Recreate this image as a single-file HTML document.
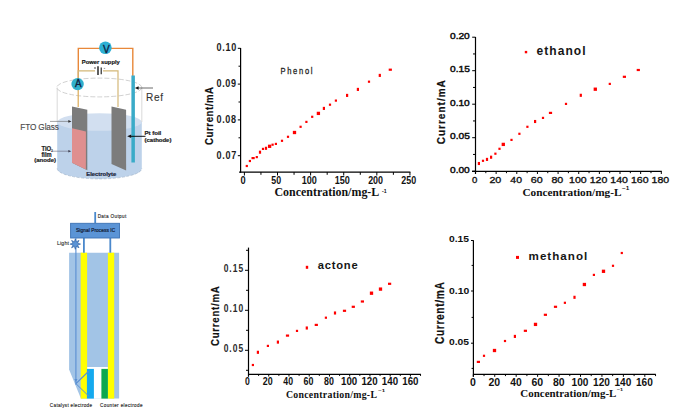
<!DOCTYPE html>
<html><head><meta charset="utf-8"><style>
html,body{margin:0;padding:0;background:#fff;width:683px;height:419px;overflow:hidden;}
svg{display:block;}
</style></head><body>
<svg width="683" height="419" viewBox="0 0 683 419">
<rect width="683" height="419" fill="#fff"/>
<path d="M57.2,122 L57.2,168.4 A42.3,10.5 0 0 0 141.8,168.4 L141.8,122 Z" fill="#bdd2ea"/>
<path d="M57.2,168.4 A42.3,10.5 0 0 0 141.8,168.4" fill="none" stroke="#9fb2c8" stroke-width="0.6" stroke-dasharray="3,1.5"/>
<ellipse cx="99.5" cy="122" rx="42.3" ry="8.8" fill="#d2dff0"/>
<line x1="57.2" y1="87.5" x2="57.2" y2="122" stroke="#cfcfcf" stroke-width="0.8"/>
<line x1="141.8" y1="87.5" x2="141.8" y2="122" stroke="#cfcfcf" stroke-width="0.8"/>
<ellipse cx="99.3" cy="87.5" rx="42.5" ry="9.4" fill="none" stroke="#bdbdbd" stroke-width="0.7" stroke-dasharray="5,2"/>
<polyline points="78.3,84 78.3,48.4 132.8,48.4 132.8,76" fill="none" stroke="#e8883a" stroke-width="1.4"/>
<polyline points="78.2,84 78.2,70.8 118,70.8 118,107" fill="none" stroke="#d4b878" stroke-width="1.2"/>
<line x1="78.2" y1="84" x2="78.2" y2="107" stroke="#dcaa55" stroke-width="1.2"/>
<rect x="95" y="69.5" width="8" height="3" fill="#fff"/>
<line x1="98" y1="66.3" x2="98" y2="75" stroke="#1a1a1a" stroke-width="1.4"/>
<line x1="101.2" y1="67.6" x2="101.2" y2="74.2" stroke="#1a1a1a" stroke-width="1.1"/>
<circle cx="95" cy="68" r="0.75" fill="#222"/>
<line x1="103.8" y1="68.4" x2="105.2" y2="68.4" stroke="#555" stroke-width="0.6"/>
<circle cx="105.4" cy="47.8" r="6.3" fill="#2eb0d4"/>
<circle cx="77.6" cy="84.1" r="6.2" fill="#30b0cc"/>
<text x="102.95" y="52.60" font-family='"Liberation Sans", sans-serif' font-size="10.34" font-weight="normal" fill="#102040" textLength="6.72" lengthAdjust="spacingAndGlyphs" stroke="#102040" stroke-width="0.35">V</text>
<text x="75.00" y="86.90" font-family='"Liberation Sans", sans-serif' font-size="10.20" font-weight="normal" fill="#102040" textLength="6.52" lengthAdjust="spacingAndGlyphs" stroke="#102040" stroke-width="0.35">A</text>
<rect x="131.4" y="75.5" width="3.5" height="87" fill="#3aabc8"/>
<path d="M72,106.4 L87.3,109.7 L87.3,170.2 L72,162.7 Z" fill="#7c7c7c"/>
<path d="M72,128.3 L85.9,131.5 L85.9,169.5 L72,162.7 Z" fill="#df8f8f"/>
<path d="M111.5,106.4 L126.1,109.7 L126.1,170.5 L111.5,164 Z" fill="#7c7c7c"/>
<line x1="50" y1="121.4" x2="70" y2="121.4" stroke="#666" stroke-width="0.6"/>
<path d="M71.5,121.4 L68.3,120.1 L68.3,122.7 Z" fill="#333"/>
<line x1="52" y1="151.2" x2="69.5" y2="151.2" stroke="#667" stroke-width="0.6"/>
<path d="M71.3,151.2 L68.3,150 L68.3,152.4 Z" fill="#445"/>
<line x1="137" y1="88" x2="153" y2="88" stroke="#444" stroke-width="0.8"/>
<path d="M134.9,88 L138.6,86.3 L138.6,89.7 Z" fill="#111"/>
<line x1="130" y1="136.3" x2="145.5" y2="136.3" stroke="#111" stroke-width="1"/>
<path d="M127.2,136.3 L131.2,134.6 L131.2,138 Z" fill="#111"/>
<text x="81.82" y="63.80" font-family='"Liberation Sans", sans-serif' font-size="5.45" font-weight="bold" fill="#111" textLength="38.02" lengthAdjust="spacingAndGlyphs" stroke="#111" stroke-width="0.15">Power supply</text>
<text x="0" y="0" transform="translate(20.24,129.80) scale(0.88,1)" font-family='"Liberation Sans", sans-serif' font-size="9.36" font-weight="normal" fill="#4a4a4a" letter-spacing="-0.128" stroke="#4a4a4a" stroke-width="0.15">FTO Glass</text>
<text x="0" y="0" transform="translate(146.00,101.40) scale(0.9,1)" font-family='"Liberation Sans", sans-serif' font-size="11.17" font-weight="normal" fill="#333" letter-spacing="0.732" stroke="#333" stroke-width="0.12">Ref</text>
<text x="41.44" y="150.50" font-family='"Liberation Sans", sans-serif' font-size="6.70" font-weight="bold" fill="#222" textLength="9.82" lengthAdjust="spacingAndGlyphs" stroke="#222" stroke-width="0.2">TiO</text>
<text x="51.08" y="152.20" font-family='"Liberation Sans", sans-serif' font-size="3.63" font-weight="bold" fill="#222" textLength="1.85" lengthAdjust="spacingAndGlyphs" >2</text>
<text x="41.41" y="157.20" font-family='"Liberation Sans", sans-serif' font-size="6.98" font-weight="bold" fill="#222" textLength="10.22" lengthAdjust="spacingAndGlyphs" stroke="#222" stroke-width="0.2">film</text>
<text x="34.20" y="161.80" font-family='"Liberation Sans", sans-serif' font-size="5.87" font-weight="bold" fill="#222" textLength="21.88" lengthAdjust="spacingAndGlyphs" stroke="#222" stroke-width="0.2">(anode)</text>
<text x="144.40" y="135.20" font-family='"Liberation Sans", sans-serif' font-size="5.59" font-weight="bold" fill="#1e1e1e" textLength="16.91" lengthAdjust="spacingAndGlyphs" stroke="#1e1e1e" stroke-width="0.2">Pt foil</text>
<text x="144.50" y="141.70" font-family='"Liberation Sans", sans-serif' font-size="4.89" font-weight="bold" fill="#1e1e1e" textLength="26.90" lengthAdjust="spacingAndGlyphs" stroke="#1e1e1e" stroke-width="0.2">(cathode)</text>
<text x="86.22" y="175.80" font-family='"Liberation Sans", sans-serif' font-size="5.87" font-weight="bold" fill="#1a2238" textLength="30.11" lengthAdjust="spacingAndGlyphs" stroke="#1a2238" stroke-width="0.2">Electrolyte</text>
<path d="M69.1,252.7 L119.1,252.7 L119.1,398.6 L80.9,398.6 L69.1,369.6 Z" fill="#a2c4e6"/>
<rect x="87.1" y="367" width="20.8" height="31.6" fill="#ffffff"/>
<rect x="80.7" y="252.7" width="6.4" height="145.9" fill="#ffff00"/>
<rect x="107.9" y="252.7" width="6.3" height="145.9" fill="#ffff00"/>
<rect x="86.9" y="368.9" width="7.0" height="29.7" fill="#14a9ee"/>
<rect x="101.4" y="368.9" width="6.5" height="29.7" fill="#0ea84f"/>
<line x1="95.2" y1="212" x2="95.2" y2="223" stroke="#4a88cc" stroke-width="1.8"/>
<line x1="83.9" y1="238" x2="83.9" y2="252.7" stroke="#4a88cc" stroke-width="1.8"/>
<line x1="110.3" y1="238" x2="110.3" y2="252.7" stroke="#4a88cc" stroke-width="1.8"/>
<rect x="70.6" y="223.3" width="48.9" height="14.7" fill="#5b94d6" stroke="#3d72b4" stroke-width="0.9"/>
<polyline points="75.9,238 75.9,383.6 88.4,371.5" fill="none" stroke="#5a8fd2" stroke-width="1.1"/>
<path d="M74.3,379 L77.5,379 L75.9,382 Z" fill="#5a8fd2"/>
<circle cx="88.2" cy="371.7" r="0.9" fill="#5a8fd2"/>
<circle cx="88.2" cy="395.6" r="0.9" fill="#5a8fd2"/>
<polyline points="75.9,383.6 88.4,395.8" fill="none" stroke="#5a8fd2" stroke-width="1.0"/>
<polygon points="80.50,244.10 77.52,245.02 78.98,247.78 76.22,246.32 75.30,249.30 74.38,246.32 71.62,247.78 73.08,245.02 70.10,244.10 73.08,243.18 71.62,240.42 74.38,241.88 75.30,238.90 76.22,241.88 78.98,240.42 77.52,243.18" fill="#5b94d6" stroke="#2f63a6" stroke-width="0.7"/>
<text x="0" y="0" transform="translate(76.09,232.30) scale(0.85,1)" font-family='"Liberation Sans", sans-serif' font-size="5.59" font-weight="normal" fill="#15223a" letter-spacing="0.099" stroke="#15223a" stroke-width="0.25">Signal Process IC</text>
<text x="0" y="0" transform="translate(97.63,217.80) scale(0.85,1)" font-family='"Liberation Sans", sans-serif' font-size="5.45" font-weight="normal" fill="#2a2a2a" letter-spacing="0.428" stroke="#2a2a2a" stroke-width="0.15">Data Output</text>
<text x="0" y="0" transform="translate(56.88,244.80) scale(0.85,1)" font-family='"Liberation Sans", sans-serif' font-size="6.15" font-weight="normal" fill="#333" letter-spacing="0.246" stroke="#333" stroke-width="0.15">Light</text>
<text x="0" y="0" transform="translate(49.87,407.40) scale(0.85,1)" font-family='"Liberation Sans", sans-serif' font-size="5.45" font-weight="normal" fill="#2a2a2a" letter-spacing="0.358" stroke="#2a2a2a" stroke-width="0.15">Catalyst electrode</text>
<text x="0" y="0" transform="translate(100.07,407.40) scale(0.85,1)" font-family='"Liberation Sans", sans-serif' font-size="5.45" font-weight="normal" fill="#2a2a2a" letter-spacing="0.421" stroke="#2a2a2a" stroke-width="0.15">Counter electrode</text>
<line x1="240.60" y1="48.00" x2="240.60" y2="172.70" stroke="#000" stroke-width="1.2" />
<line x1="239.10" y1="172.10" x2="410.40" y2="172.10" stroke="#000" stroke-width="1.2" />
<line x1="237.80" y1="48.30" x2="240.60" y2="48.30" stroke="#000" stroke-width="1" />
<text x="0" y="0" transform="translate(216.44,51.10) scale(0.9,1)" font-family='"Liberation Sans", sans-serif' font-size="10.06" font-weight="bold" fill="#1c1c1c" letter-spacing="0.786" >0.10</text>
<line x1="237.80" y1="84.10" x2="240.60" y2="84.10" stroke="#000" stroke-width="1" />
<text x="0" y="0" transform="translate(216.44,86.90) scale(0.9,1)" font-family='"Liberation Sans", sans-serif' font-size="10.06" font-weight="bold" fill="#1c1c1c" letter-spacing="0.769" >0.09</text>
<line x1="237.80" y1="119.90" x2="240.60" y2="119.90" stroke="#000" stroke-width="1" />
<text x="0" y="0" transform="translate(216.44,122.70) scale(0.9,1)" font-family='"Liberation Sans", sans-serif' font-size="10.06" font-weight="bold" fill="#1c1c1c" letter-spacing="0.752" >0.08</text>
<line x1="237.80" y1="155.70" x2="240.60" y2="155.70" stroke="#000" stroke-width="1" />
<text x="0" y="0" transform="translate(216.44,158.50) scale(0.9,1)" font-family='"Liberation Sans", sans-serif' font-size="10.06" font-weight="bold" fill="#1c1c1c" letter-spacing="0.786" >0.07</text>
<line x1="238.50" y1="66.20" x2="240.60" y2="66.20" stroke="#000" stroke-width="1" />
<line x1="238.50" y1="102.00" x2="240.60" y2="102.00" stroke="#000" stroke-width="1" />
<line x1="238.50" y1="137.80" x2="240.60" y2="137.80" stroke="#000" stroke-width="1" />
<line x1="244.40" y1="172.10" x2="244.40" y2="175.50" stroke="#000" stroke-width="1" />
<text x="240.53" y="183.70" font-family='"Liberation Sans", sans-serif' font-size="10.06" font-weight="bold" fill="#111" textLength="5.15" lengthAdjust="spacingAndGlyphs" >0</text>
<line x1="260.95" y1="172.10" x2="260.95" y2="174.80" stroke="#000" stroke-width="1" />
<line x1="277.51" y1="172.10" x2="277.51" y2="175.50" stroke="#000" stroke-width="1" />
<text x="271.34" y="183.70" font-family='"Liberation Sans", sans-serif' font-size="10.06" font-weight="bold" fill="#111" textLength="9.84" lengthAdjust="spacingAndGlyphs" >50</text>
<line x1="294.06" y1="172.10" x2="294.06" y2="174.80" stroke="#000" stroke-width="1" />
<line x1="310.62" y1="172.10" x2="310.62" y2="175.50" stroke="#000" stroke-width="1" />
<text x="301.68" y="183.70" font-family='"Liberation Sans", sans-serif' font-size="10.06" font-weight="bold" fill="#111" textLength="15.14" lengthAdjust="spacingAndGlyphs" >100</text>
<line x1="327.18" y1="172.10" x2="327.18" y2="174.80" stroke="#000" stroke-width="1" />
<line x1="343.73" y1="172.10" x2="343.73" y2="175.50" stroke="#000" stroke-width="1" />
<text x="334.79" y="183.70" font-family='"Liberation Sans", sans-serif' font-size="10.06" font-weight="bold" fill="#111" textLength="15.14" lengthAdjust="spacingAndGlyphs" >150</text>
<line x1="360.29" y1="172.10" x2="360.29" y2="174.80" stroke="#000" stroke-width="1" />
<line x1="376.84" y1="172.10" x2="376.84" y2="175.50" stroke="#000" stroke-width="1" />
<text x="368.13" y="183.70" font-family='"Liberation Sans", sans-serif' font-size="10.06" font-weight="bold" fill="#111" textLength="14.90" lengthAdjust="spacingAndGlyphs" >200</text>
<line x1="393.39" y1="172.10" x2="393.39" y2="174.80" stroke="#000" stroke-width="1" />
<line x1="409.95" y1="172.10" x2="409.95" y2="175.50" stroke="#000" stroke-width="1" />
<text x="401.24" y="183.70" font-family='"Liberation Sans", sans-serif' font-size="10.06" font-weight="bold" fill="#111" textLength="14.90" lengthAdjust="spacingAndGlyphs" >250</text>
<text x="274.50" y="195.80" font-family='"Liberation Serif", serif' font-size="11.48" font-weight="bold" fill="#111" textLength="104.80" lengthAdjust="spacingAndGlyphs" >Concentration/mg-L</text>
<text x="382.09" y="192.60" font-family='"Liberation Sans", sans-serif' font-size="5.03" font-weight="bold" fill="#111" textLength="4.63" lengthAdjust="spacingAndGlyphs" >-1</text>
<text x="0" y="0" transform="translate(212.90,144.50) rotate(-90) translate(-0.38,0) scale(0.85,1)" font-family='"Liberation Sans", sans-serif' font-size="11.31" font-weight="bold" fill="#111" letter-spacing="0.658" stroke="#111" stroke-width="0.2">Current/mA</text>
<text x="0" y="0" transform="translate(280.39,73.90) scale(0.92,1)" font-family='"Liberation Sans", sans-serif' font-size="8.24" font-weight="normal" fill="#222" letter-spacing="1.853" stroke="#222" stroke-width="0.25">Phenol</text>
<rect x="245.70" y="164.90" width="2.2" height="2.2" fill="#f00"/>
<rect x="248.80" y="159.90" width="2.2" height="2.2" fill="#f00"/>
<rect x="251.50" y="157.00" width="3.2" height="2.2" fill="#f00"/>
<rect x="255.70" y="156.00" width="2.2" height="2.2" fill="#f00"/>
<rect x="258.90" y="150.65" width="2.2" height="3.1" fill="#f00"/>
<rect x="261.90" y="147.80" width="2.2" height="2.2" fill="#f00"/>
<rect x="264.90" y="146.75" width="2.2" height="3.1" fill="#f00"/>
<rect x="267.95" y="144.65" width="3.3" height="3.3" fill="#f00"/>
<rect x="271.50" y="143.60" width="2.2" height="2.2" fill="#f00"/>
<rect x="274.80" y="142.80" width="2.2" height="2.2" fill="#f00"/>
<rect x="280.90" y="139.70" width="2.2" height="2.2" fill="#f00"/>
<rect x="286.90" y="135.70" width="2.2" height="2.2" fill="#f00"/>
<rect x="292.85" y="130.85" width="3.3" height="3.3" fill="#f00"/>
<rect x="299.50" y="125.70" width="2.2" height="2.2" fill="#f00"/>
<rect x="305.30" y="120.80" width="2.2" height="2.2" fill="#f00"/>
<rect x="311.10" y="115.70" width="2.2" height="2.2" fill="#f00"/>
<rect x="316.75" y="111.75" width="3.3" height="3.3" fill="#f00"/>
<rect x="322.80" y="106.85" width="2.2" height="3.1" fill="#f00"/>
<rect x="328.90" y="103.60" width="2.2" height="2.2" fill="#f00"/>
<rect x="334.80" y="99.50" width="2.2" height="2.2" fill="#f00"/>
<rect x="346.00" y="93.85" width="2.2" height="3.1" fill="#f00"/>
<rect x="356.80" y="87.85" width="2.2" height="3.1" fill="#f00"/>
<rect x="367.90" y="80.60" width="2.2" height="2.2" fill="#f00"/>
<rect x="378.70" y="73.85" width="2.2" height="3.1" fill="#f00"/>
<rect x="388.70" y="68.60" width="3.2" height="2.2" fill="#f00"/>
<line x1="475.50" y1="37.00" x2="475.50" y2="174.00" stroke="#000" stroke-width="1.2" />
<line x1="472.00" y1="171.40" x2="661.80" y2="171.40" stroke="#000" stroke-width="1.2" />
<line x1="472.20" y1="37.20" x2="475.50" y2="37.20" stroke="#000" stroke-width="1" />
<text x="449.99" y="38.80" font-family='"Liberation Sans", sans-serif' font-size="8.66" font-weight="normal" fill="#111" textLength="19.78" lengthAdjust="spacingAndGlyphs" stroke="#111" stroke-width="0.45">0.20</text>
<line x1="472.20" y1="70.70" x2="475.50" y2="70.70" stroke="#000" stroke-width="1" />
<text x="449.99" y="72.30" font-family='"Liberation Sans", sans-serif' font-size="8.66" font-weight="normal" fill="#111" textLength="19.83" lengthAdjust="spacingAndGlyphs" stroke="#111" stroke-width="0.45">0.15</text>
<line x1="472.20" y1="104.20" x2="475.50" y2="104.20" stroke="#000" stroke-width="1" />
<text x="449.99" y="105.80" font-family='"Liberation Sans", sans-serif' font-size="8.66" font-weight="normal" fill="#111" textLength="19.78" lengthAdjust="spacingAndGlyphs" stroke="#111" stroke-width="0.45">0.10</text>
<line x1="472.20" y1="137.70" x2="475.50" y2="137.70" stroke="#000" stroke-width="1" />
<text x="449.99" y="139.30" font-family='"Liberation Sans", sans-serif' font-size="8.66" font-weight="normal" fill="#111" textLength="19.83" lengthAdjust="spacingAndGlyphs" stroke="#111" stroke-width="0.45">0.05</text>
<line x1="472.20" y1="171.20" x2="475.50" y2="171.20" stroke="#000" stroke-width="1" />
<text x="449.99" y="172.80" font-family='"Liberation Sans", sans-serif' font-size="8.66" font-weight="normal" fill="#111" textLength="19.78" lengthAdjust="spacingAndGlyphs" stroke="#111" stroke-width="0.45">0.00</text>
<line x1="473.00" y1="53.95" x2="475.50" y2="53.95" stroke="#000" stroke-width="1" />
<line x1="473.00" y1="87.45" x2="475.50" y2="87.45" stroke="#000" stroke-width="1" />
<line x1="473.00" y1="120.95" x2="475.50" y2="120.95" stroke="#000" stroke-width="1" />
<line x1="473.00" y1="154.45" x2="475.50" y2="154.45" stroke="#000" stroke-width="1" />
<line x1="475.50" y1="171.40" x2="475.50" y2="174.00" stroke="#000" stroke-width="1" />
<text x="472.12" y="182.60" font-family='"Liberation Sans", sans-serif' font-size="9.36" font-weight="normal" fill="#111" textLength="5.33" lengthAdjust="spacingAndGlyphs" stroke="#111" stroke-width="0.35">0</text>
<line x1="485.82" y1="171.40" x2="485.82" y2="173.20" stroke="#000" stroke-width="1" />
<line x1="496.14" y1="171.40" x2="496.14" y2="174.00" stroke="#000" stroke-width="1" />
<text x="489.41" y="182.60" font-family='"Liberation Sans", sans-serif' font-size="9.36" font-weight="normal" fill="#111" textLength="11.94" lengthAdjust="spacingAndGlyphs" stroke="#111" stroke-width="0.35">20</text>
<line x1="506.47" y1="171.40" x2="506.47" y2="173.20" stroke="#000" stroke-width="1" />
<line x1="516.79" y1="171.40" x2="516.79" y2="174.00" stroke="#000" stroke-width="1" />
<text x="510.38" y="182.60" font-family='"Liberation Sans", sans-serif' font-size="9.36" font-weight="normal" fill="#111" textLength="11.60" lengthAdjust="spacingAndGlyphs" stroke="#111" stroke-width="0.35">40</text>
<line x1="527.11" y1="171.40" x2="527.11" y2="173.20" stroke="#000" stroke-width="1" />
<line x1="537.43" y1="171.40" x2="537.43" y2="174.00" stroke="#000" stroke-width="1" />
<text x="530.70" y="182.60" font-family='"Liberation Sans", sans-serif' font-size="9.36" font-weight="normal" fill="#111" textLength="11.94" lengthAdjust="spacingAndGlyphs" stroke="#111" stroke-width="0.35">60</text>
<line x1="547.75" y1="171.40" x2="547.75" y2="173.20" stroke="#000" stroke-width="1" />
<line x1="558.08" y1="171.40" x2="558.08" y2="174.00" stroke="#000" stroke-width="1" />
<text x="551.40" y="182.60" font-family='"Liberation Sans", sans-serif' font-size="9.36" font-weight="normal" fill="#111" textLength="11.88" lengthAdjust="spacingAndGlyphs" stroke="#111" stroke-width="0.35">80</text>
<line x1="568.40" y1="171.40" x2="568.40" y2="173.20" stroke="#000" stroke-width="1" />
<line x1="578.72" y1="171.40" x2="578.72" y2="174.00" stroke="#000" stroke-width="1" />
<text x="569.03" y="182.60" font-family='"Liberation Sans", sans-serif' font-size="9.36" font-weight="normal" fill="#111" textLength="17.60" lengthAdjust="spacingAndGlyphs" stroke="#111" stroke-width="0.35">100</text>
<line x1="589.04" y1="171.40" x2="589.04" y2="173.20" stroke="#000" stroke-width="1" />
<line x1="599.36" y1="171.40" x2="599.36" y2="174.00" stroke="#000" stroke-width="1" />
<text x="589.67" y="182.60" font-family='"Liberation Sans", sans-serif' font-size="9.36" font-weight="normal" fill="#111" textLength="17.60" lengthAdjust="spacingAndGlyphs" stroke="#111" stroke-width="0.35">120</text>
<line x1="609.69" y1="171.40" x2="609.69" y2="173.20" stroke="#000" stroke-width="1" />
<line x1="620.01" y1="171.40" x2="620.01" y2="174.00" stroke="#000" stroke-width="1" />
<text x="610.32" y="182.60" font-family='"Liberation Sans", sans-serif' font-size="9.36" font-weight="normal" fill="#111" textLength="17.60" lengthAdjust="spacingAndGlyphs" stroke="#111" stroke-width="0.35">140</text>
<line x1="630.33" y1="171.40" x2="630.33" y2="173.20" stroke="#000" stroke-width="1" />
<line x1="640.65" y1="171.40" x2="640.65" y2="174.00" stroke="#000" stroke-width="1" />
<text x="630.96" y="182.60" font-family='"Liberation Sans", sans-serif' font-size="9.36" font-weight="normal" fill="#111" textLength="17.60" lengthAdjust="spacingAndGlyphs" stroke="#111" stroke-width="0.35">160</text>
<line x1="650.97" y1="171.40" x2="650.97" y2="173.20" stroke="#000" stroke-width="1" />
<line x1="661.30" y1="171.40" x2="661.30" y2="174.00" stroke="#000" stroke-width="1" />
<text x="651.61" y="182.60" font-family='"Liberation Sans", sans-serif' font-size="9.36" font-weight="normal" fill="#111" textLength="17.60" lengthAdjust="spacingAndGlyphs" stroke="#111" stroke-width="0.35">180</text>
<text x="522.44" y="195.80" font-family='"Liberation Serif", serif' font-size="11.33" font-weight="bold" fill="#111" textLength="99.04" lengthAdjust="spacingAndGlyphs" >Concentration/mg-L</text>
<text x="622.04" y="190.00" font-family='"Liberation Sans", sans-serif' font-size="4.75" font-weight="bold" fill="#111" textLength="7.32" lengthAdjust="spacingAndGlyphs" >−1</text>
<text x="0" y="0" transform="translate(444.70,143.90) rotate(-90) translate(-0.40,0) scale(0.85,1)" font-family='"Liberation Sans", sans-serif' font-size="11.73" font-weight="bold" fill="#111" letter-spacing="1.216" stroke="#111" stroke-width="0.2">Current/mA</text>
<rect x="524.80" y="50.90" width="2.4" height="2.4" fill="#f00"/>
<text x="0" y="0" transform="translate(536.52,54.80) scale(1.0,1)" font-family='"Liberation Sans", sans-serif' font-size="12.00" font-weight="bold" fill="#161616" letter-spacing="1.067" >ethanol</text>
<rect x="477.80" y="161.95" width="2.2" height="3.1" fill="#f00"/>
<rect x="481.90" y="159.70" width="2.2" height="2.2" fill="#f00"/>
<rect x="485.90" y="157.85" width="2.2" height="3.1" fill="#f00"/>
<rect x="490.00" y="155.65" width="2.2" height="3.1" fill="#f00"/>
<rect x="494.30" y="152.60" width="2.2" height="2.2" fill="#f00"/>
<rect x="498.40" y="147.70" width="2.2" height="2.2" fill="#f00"/>
<rect x="501.65" y="142.75" width="3.3" height="3.3" fill="#f00"/>
<rect x="510.40" y="138.80" width="2.2" height="2.2" fill="#f00"/>
<rect x="518.30" y="132.70" width="2.2" height="2.2" fill="#f00"/>
<rect x="526.30" y="125.70" width="2.2" height="2.2" fill="#f00"/>
<rect x="534.00" y="119.95" width="2.2" height="3.1" fill="#f00"/>
<rect x="541.90" y="116.80" width="2.2" height="2.2" fill="#f00"/>
<rect x="548.90" y="111.80" width="3.2" height="2.2" fill="#f00"/>
<rect x="564.90" y="102.80" width="2.2" height="2.2" fill="#f00"/>
<rect x="579.70" y="93.75" width="2.2" height="3.1" fill="#f00"/>
<rect x="593.65" y="87.55" width="3.3" height="3.3" fill="#f00"/>
<rect x="608.70" y="82.80" width="2.2" height="2.2" fill="#f00"/>
<rect x="622.80" y="75.70" width="3.2" height="2.2" fill="#f00"/>
<rect x="636.70" y="68.90" width="3.2" height="2.2" fill="#f00"/>
<line x1="248.50" y1="247.60" x2="248.50" y2="376.60" stroke="#000" stroke-width="1.2" />
<line x1="248.00" y1="374.30" x2="420.90" y2="374.30" stroke="#000" stroke-width="1.2" />
<line x1="245.00" y1="270.30" x2="248.50" y2="270.30" stroke="#000" stroke-width="1" />
<text x="0" y="0" transform="translate(223.66,272.00) scale(0.83,1)" font-family='"Liberation Sans", sans-serif' font-size="10.20" font-weight="bold" fill="#2a2a2a" letter-spacing="1.201" >0.15</text>
<line x1="245.00" y1="310.30" x2="248.50" y2="310.30" stroke="#000" stroke-width="1" />
<text x="0" y="0" transform="translate(223.66,312.00) scale(0.83,1)" font-family='"Liberation Sans", sans-serif' font-size="10.20" font-weight="bold" fill="#2a2a2a" letter-spacing="1.252" >0.10</text>
<line x1="245.00" y1="350.30" x2="248.50" y2="350.30" stroke="#000" stroke-width="1" />
<text x="0" y="0" transform="translate(223.66,352.00) scale(0.83,1)" font-family='"Liberation Sans", sans-serif' font-size="10.20" font-weight="bold" fill="#2a2a2a" letter-spacing="1.201" >0.05</text>
<line x1="246.00" y1="250.30" x2="248.50" y2="250.30" stroke="#000" stroke-width="1" />
<line x1="246.00" y1="290.30" x2="248.50" y2="290.30" stroke="#000" stroke-width="1" />
<line x1="246.00" y1="330.30" x2="248.50" y2="330.30" stroke="#000" stroke-width="1" />
<line x1="246.00" y1="370.30" x2="248.50" y2="370.30" stroke="#000" stroke-width="1" />
<line x1="248.50" y1="374.30" x2="248.50" y2="376.50" stroke="#000" stroke-width="1" />
<text x="244.90" y="384.70" font-family='"Liberation Sans", sans-serif' font-size="10.34" font-weight="bold" fill="#111" textLength="4.80" lengthAdjust="spacingAndGlyphs" >0</text>
<line x1="258.62" y1="374.30" x2="258.62" y2="375.90" stroke="#000" stroke-width="1" />
<line x1="268.74" y1="374.30" x2="268.74" y2="376.50" stroke="#000" stroke-width="1" />
<text x="262.78" y="384.70" font-family='"Liberation Sans", sans-serif' font-size="10.34" font-weight="bold" fill="#111" textLength="9.89" lengthAdjust="spacingAndGlyphs" >20</text>
<line x1="278.86" y1="374.30" x2="278.86" y2="375.90" stroke="#000" stroke-width="1" />
<line x1="288.98" y1="374.30" x2="288.98" y2="376.50" stroke="#000" stroke-width="1" />
<text x="283.35" y="384.70" font-family='"Liberation Sans", sans-serif' font-size="10.34" font-weight="bold" fill="#111" textLength="9.70" lengthAdjust="spacingAndGlyphs" >40</text>
<line x1="299.10" y1="374.30" x2="299.10" y2="375.90" stroke="#000" stroke-width="1" />
<line x1="309.22" y1="374.30" x2="309.22" y2="376.50" stroke="#000" stroke-width="1" />
<text x="303.56" y="384.70" font-family='"Liberation Sans", sans-serif' font-size="10.34" font-weight="bold" fill="#111" textLength="9.89" lengthAdjust="spacingAndGlyphs" >60</text>
<line x1="319.34" y1="374.30" x2="319.34" y2="375.90" stroke="#000" stroke-width="1" />
<line x1="329.46" y1="374.30" x2="329.46" y2="376.50" stroke="#000" stroke-width="1" />
<text x="323.99" y="384.70" font-family='"Liberation Sans", sans-serif' font-size="10.34" font-weight="bold" fill="#111" textLength="9.84" lengthAdjust="spacingAndGlyphs" >80</text>
<line x1="339.58" y1="374.30" x2="339.58" y2="375.90" stroke="#000" stroke-width="1" />
<line x1="349.70" y1="374.30" x2="349.70" y2="376.50" stroke="#000" stroke-width="1" />
<text x="341.07" y="384.70" font-family='"Liberation Sans", sans-serif' font-size="10.34" font-weight="bold" fill="#111" textLength="16.21" lengthAdjust="spacingAndGlyphs" >100</text>
<line x1="359.82" y1="374.30" x2="359.82" y2="375.90" stroke="#000" stroke-width="1" />
<line x1="369.94" y1="374.30" x2="369.94" y2="376.50" stroke="#000" stroke-width="1" />
<text x="361.46" y="384.70" font-family='"Liberation Sans", sans-serif' font-size="10.34" font-weight="bold" fill="#111" textLength="16.21" lengthAdjust="spacingAndGlyphs" >120</text>
<line x1="380.06" y1="374.30" x2="380.06" y2="375.90" stroke="#000" stroke-width="1" />
<line x1="390.18" y1="374.30" x2="390.18" y2="376.50" stroke="#000" stroke-width="1" />
<text x="381.85" y="384.70" font-family='"Liberation Sans", sans-serif' font-size="10.34" font-weight="bold" fill="#111" textLength="16.21" lengthAdjust="spacingAndGlyphs" >140</text>
<line x1="400.30" y1="374.30" x2="400.30" y2="375.90" stroke="#000" stroke-width="1" />
<line x1="410.42" y1="374.30" x2="410.42" y2="376.50" stroke="#000" stroke-width="1" />
<text x="402.24" y="384.70" font-family='"Liberation Sans", sans-serif' font-size="10.34" font-weight="bold" fill="#111" textLength="16.21" lengthAdjust="spacingAndGlyphs" >160</text>
<line x1="420.54" y1="374.30" x2="420.54" y2="375.90" stroke="#000" stroke-width="1" />
<text x="285.91" y="397.70" font-family='"Liberation Serif", serif' font-size="9.82" font-weight="bold" fill="#111" letter-spacing="0.290" >Concentration/mg-L</text>
<text x="378.05" y="392.00" font-family='"Liberation Sans", sans-serif' font-size="3.77" font-weight="bold" fill="#111" textLength="7.00" lengthAdjust="spacingAndGlyphs" >−1</text>
<text x="0" y="0" transform="translate(219.40,345.60) rotate(-90) translate(-0.38,0) scale(0.85,1)" font-family='"Liberation Sans", sans-serif' font-size="11.31" font-weight="bold" fill="#111" letter-spacing="0.894" stroke="#111" stroke-width="0.2">Current/mA</text>
<rect x="305.80" y="265.80" width="2.4" height="3" fill="#f00"/>
<text x="0" y="0" transform="translate(317.66,268.80) scale(1.0,1)" font-family='"Liberation Sans", sans-serif' font-size="11.20" font-weight="bold" fill="#161616" letter-spacing="0.793" >actone</text>
<rect x="251.80" y="363.90" width="2.2" height="2.2" fill="#f00"/>
<rect x="256.80" y="350.75" width="2.2" height="3.1" fill="#f00"/>
<rect x="266.80" y="344.80" width="2.2" height="2.2" fill="#f00"/>
<rect x="276.80" y="340.55" width="2.2" height="3.1" fill="#f00"/>
<rect x="285.90" y="334.50" width="3.2" height="2.2" fill="#f00"/>
<rect x="295.90" y="329.80" width="2.2" height="2.2" fill="#f00"/>
<rect x="305.70" y="326.45" width="2.2" height="3.1" fill="#f00"/>
<rect x="314.70" y="323.80" width="3.2" height="2.2" fill="#f00"/>
<rect x="324.80" y="316.60" width="2.2" height="2.2" fill="#f00"/>
<rect x="333.90" y="311.45" width="2.2" height="3.1" fill="#f00"/>
<rect x="342.90" y="309.70" width="3.2" height="2.2" fill="#f00"/>
<rect x="351.70" y="305.70" width="3.2" height="2.2" fill="#f00"/>
<rect x="360.80" y="300.40" width="3.2" height="2.2" fill="#f00"/>
<rect x="369.85" y="291.55" width="3.3" height="3.3" fill="#f00"/>
<rect x="378.85" y="287.45" width="3.3" height="3.3" fill="#f00"/>
<rect x="388.00" y="282.70" width="3.2" height="2.2" fill="#f00"/>
<line x1="473.40" y1="240.20" x2="473.40" y2="376.80" stroke="#000" stroke-width="1.2" />
<line x1="473.00" y1="374.30" x2="655.80" y2="374.30" stroke="#000" stroke-width="1.2" />
<line x1="471.00" y1="240.50" x2="473.40" y2="240.50" stroke="#000" stroke-width="1" />
<text x="448.99" y="241.90" font-family='"Liberation Sans", sans-serif' font-size="9.64" font-weight="bold" fill="#111" textLength="20.08" lengthAdjust="spacingAndGlyphs" >0.15</text>
<line x1="471.00" y1="291.00" x2="473.40" y2="291.00" stroke="#000" stroke-width="1" />
<text x="448.98" y="293.80" font-family='"Liberation Sans", sans-serif' font-size="9.64" font-weight="bold" fill="#111" textLength="20.25" lengthAdjust="spacingAndGlyphs" >0.10</text>
<line x1="471.00" y1="343.20" x2="473.40" y2="343.20" stroke="#000" stroke-width="1" />
<text x="448.99" y="344.90" font-family='"Liberation Sans", sans-serif' font-size="9.64" font-weight="bold" fill="#111" textLength="20.08" lengthAdjust="spacingAndGlyphs" >0.05</text>
<line x1="471.60" y1="265.40" x2="473.40" y2="265.40" stroke="#000" stroke-width="1" />
<line x1="471.60" y1="317.40" x2="473.40" y2="317.40" stroke="#000" stroke-width="1" />
<line x1="471.60" y1="368.40" x2="473.40" y2="368.40" stroke="#000" stroke-width="1" />
<line x1="473.30" y1="374.30" x2="473.30" y2="376.80" stroke="#000" stroke-width="1" />
<text x="469.98" y="385.60" font-family='"Liberation Sans", sans-serif' font-size="10.20" font-weight="bold" fill="#111" textLength="5.85" lengthAdjust="spacingAndGlyphs" >0</text>
<line x1="484.02" y1="374.30" x2="484.02" y2="376.10" stroke="#000" stroke-width="1" />
<line x1="494.74" y1="374.30" x2="494.74" y2="376.80" stroke="#000" stroke-width="1" />
<text x="488.52" y="385.60" font-family='"Liberation Sans", sans-serif' font-size="10.20" font-weight="bold" fill="#111" textLength="11.71" lengthAdjust="spacingAndGlyphs" >20</text>
<line x1="505.46" y1="374.30" x2="505.46" y2="376.10" stroke="#000" stroke-width="1" />
<line x1="516.18" y1="374.30" x2="516.18" y2="376.80" stroke="#000" stroke-width="1" />
<text x="510.18" y="385.60" font-family='"Liberation Sans", sans-serif' font-size="10.20" font-weight="bold" fill="#111" textLength="11.49" lengthAdjust="spacingAndGlyphs" >40</text>
<line x1="526.90" y1="374.30" x2="526.90" y2="376.10" stroke="#000" stroke-width="1" />
<line x1="537.62" y1="374.30" x2="537.62" y2="376.80" stroke="#000" stroke-width="1" />
<text x="531.40" y="385.60" font-family='"Liberation Sans", sans-serif' font-size="10.20" font-weight="bold" fill="#111" textLength="11.71" lengthAdjust="spacingAndGlyphs" >60</text>
<line x1="548.34" y1="374.30" x2="548.34" y2="376.10" stroke="#000" stroke-width="1" />
<line x1="559.06" y1="374.30" x2="559.06" y2="376.80" stroke="#000" stroke-width="1" />
<text x="552.90" y="385.60" font-family='"Liberation Sans", sans-serif' font-size="10.20" font-weight="bold" fill="#111" textLength="11.66" lengthAdjust="spacingAndGlyphs" >80</text>
<line x1="569.78" y1="374.30" x2="569.78" y2="376.10" stroke="#000" stroke-width="1" />
<line x1="580.50" y1="374.30" x2="580.50" y2="376.80" stroke="#000" stroke-width="1" />
<text x="571.59" y="385.60" font-family='"Liberation Sans", sans-serif' font-size="10.20" font-weight="bold" fill="#111" textLength="16.85" lengthAdjust="spacingAndGlyphs" >100</text>
<line x1="591.22" y1="374.30" x2="591.22" y2="376.10" stroke="#000" stroke-width="1" />
<line x1="601.94" y1="374.30" x2="601.94" y2="376.80" stroke="#000" stroke-width="1" />
<text x="593.03" y="385.60" font-family='"Liberation Sans", sans-serif' font-size="10.20" font-weight="bold" fill="#111" textLength="16.85" lengthAdjust="spacingAndGlyphs" >120</text>
<line x1="612.66" y1="374.30" x2="612.66" y2="376.10" stroke="#000" stroke-width="1" />
<line x1="623.38" y1="374.30" x2="623.38" y2="376.80" stroke="#000" stroke-width="1" />
<text x="614.47" y="385.60" font-family='"Liberation Sans", sans-serif' font-size="10.20" font-weight="bold" fill="#111" textLength="16.85" lengthAdjust="spacingAndGlyphs" >140</text>
<line x1="634.10" y1="374.30" x2="634.10" y2="376.10" stroke="#000" stroke-width="1" />
<line x1="644.82" y1="374.30" x2="644.82" y2="376.80" stroke="#000" stroke-width="1" />
<text x="635.91" y="385.60" font-family='"Liberation Sans", sans-serif' font-size="10.20" font-weight="bold" fill="#111" textLength="16.85" lengthAdjust="spacingAndGlyphs" >160</text>
<line x1="655.54" y1="374.30" x2="655.54" y2="376.10" stroke="#000" stroke-width="1" />
<text x="520.35" y="396.60" font-family='"Liberation Serif", serif' font-size="11.03" font-weight="bold" fill="#111" textLength="96.01" lengthAdjust="spacingAndGlyphs" >Concentration/mg-L</text>
<text x="616.88" y="391.00" font-family='"Liberation Sans", sans-serif' font-size="3.77" font-weight="bold" fill="#111" textLength="6.26" lengthAdjust="spacingAndGlyphs" >−1</text>
<text x="0" y="0" transform="translate(444.20,343.70) rotate(-90) translate(-0.41,0) scale(0.85,1)" font-family='"Liberation Sans", sans-serif' font-size="12.01" font-weight="bold" fill="#111" letter-spacing="0.773" stroke="#111" stroke-width="0.2">Current/mA</text>
<rect x="516.00" y="255.90" width="3" height="3" fill="#f00"/>
<text x="0" y="0" transform="translate(528.55,259.70) scale(1.0,1)" font-family='"Liberation Sans", sans-serif' font-size="11.60" font-weight="bold" fill="#161616" letter-spacing="1.029" >methanol</text>
<rect x="476.80" y="360.80" width="3.2" height="2.2" fill="#f00"/>
<rect x="482.90" y="354.70" width="2.2" height="2.2" fill="#f00"/>
<rect x="492.85" y="348.85" width="3.3" height="3.3" fill="#f00"/>
<rect x="503.90" y="339.90" width="2.2" height="2.2" fill="#f00"/>
<rect x="513.80" y="334.85" width="2.2" height="3.1" fill="#f00"/>
<rect x="523.80" y="329.70" width="3.2" height="2.2" fill="#f00"/>
<rect x="533.85" y="322.75" width="3.3" height="3.3" fill="#f00"/>
<rect x="543.80" y="313.70" width="3.2" height="2.2" fill="#f00"/>
<rect x="553.90" y="305.70" width="3.2" height="2.2" fill="#f00"/>
<rect x="563.80" y="301.70" width="2.2" height="2.2" fill="#f00"/>
<rect x="573.40" y="295.75" width="2.2" height="3.1" fill="#f00"/>
<rect x="582.75" y="282.85" width="3.3" height="3.3" fill="#f00"/>
<rect x="592.80" y="273.80" width="2.2" height="2.2" fill="#f00"/>
<rect x="601.85" y="269.65" width="3.3" height="3.3" fill="#f00"/>
<rect x="611.90" y="264.70" width="2.2" height="2.2" fill="#f00"/>
<rect x="620.70" y="251.90" width="2.2" height="2.2" fill="#f00"/>
</svg>
</body></html>
